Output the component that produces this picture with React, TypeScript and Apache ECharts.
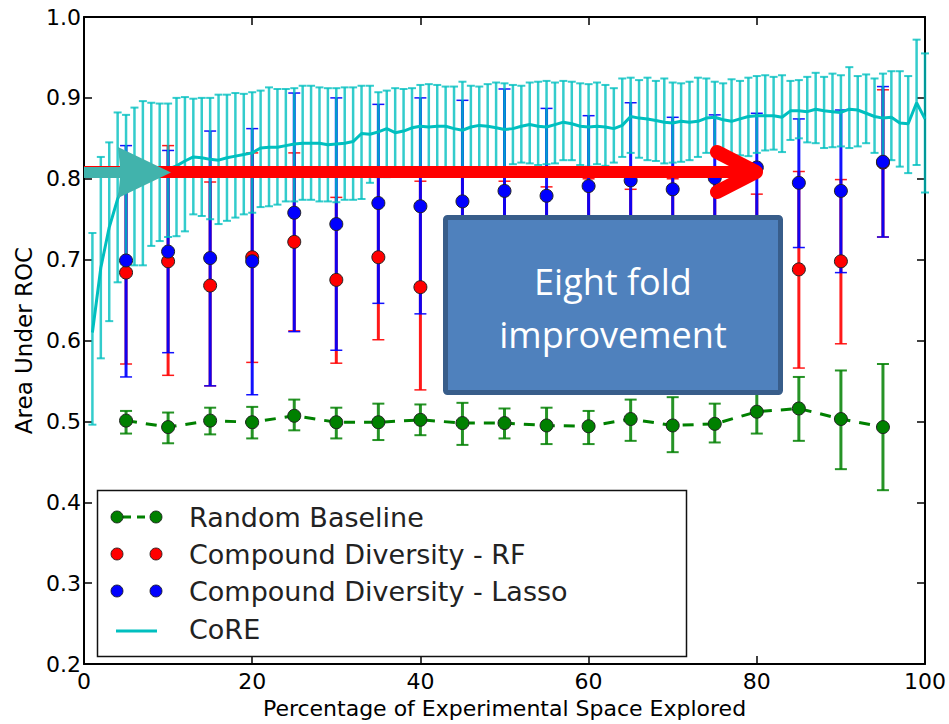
import React, { useEffect, useRef } from "react";
import * as echarts from "echarts";

const FONT = "DejaVu Sans";

// x positions of the sampled strategies (percent explored)
const pctX = [5, 10, 15, 20, 25, 30, 35, 40, 45, 50, 55, 60, 65, 70, 75, 80, 85, 90, 95];
const xTicks = [0, 20, 40, 60, 80, 100];

// Random Baseline
const randomMean = [0.501, 0.493, 0.501, 0.499, 0.507, 0.499, 0.499, 0.502, 0.498, 0.498, 0.495, 0.494, 0.503, 0.495, 0.497, 0.512, 0.516, 0.503, 0.493];
const randomHigh = [0.513, 0.511, 0.517, 0.518, 0.527, 0.517, 0.522, 0.521, 0.523, 0.516, 0.517, 0.513, 0.527, 0.530, 0.522, 0.537, 0.555, 0.563, 0.571];
const randomLow = [0.485, 0.473, 0.484, 0.479, 0.489, 0.479, 0.477, 0.483, 0.471, 0.479, 0.472, 0.472, 0.476, 0.462, 0.474, 0.485, 0.476, 0.441, 0.415];

// Compound Diversity - RF
const rfMean = [0.684, 0.698, 0.668, 0.703, 0.722, 0.675, 0.703, 0.666, 0.700, 0.710, 0.700, 0.680, 0.700, 0.690, 0.710, 0.690, 0.688, 0.698, 0.820];
const rfHigh = [0.798, 0.841, 0.796, 0.832, 0.832, 0.777, 0.808, 0.797, 0.810, 0.797, 0.790, 0.800, 0.787, 0.800, 0.810, 0.781, 0.809, 0.799, 0.910];
const rfLow = [0.571, 0.557, 0.544, 0.573, 0.612, 0.572, 0.601, 0.539, 0.580, 0.600, 0.590, 0.535, 0.590, 0.580, 0.600, 0.580, 0.566, 0.596, 0.728];

// Compound Diversity - Lasso
const lassoMean = [0.699, 0.710, 0.702, 0.698, 0.758, 0.744, 0.770, 0.766, 0.772, 0.785, 0.779, 0.791, 0.798, 0.787, 0.801, 0.814, 0.795, 0.785, 0.821];
const lassoHigh = [0.841, 0.835, 0.859, 0.862, 0.906, 0.900, 0.892, 0.900, 0.897, 0.911, 0.887, 0.878, 0.894, 0.876, 0.879, 0.881, 0.874, 0.885, 0.914];
const lassoLow = [0.555, 0.585, 0.544, 0.533, 0.611, 0.588, 0.646, 0.633, 0.650, 0.660, 0.660, 0.680, 0.690, 0.670, 0.690, 0.700, 0.715, 0.684, 0.728];

// CoRE, sampled at 1..100 percent
const coreMean = [
  0.61, 0.69, 0.74, 0.775, 0.80, 0.808, 0.81, 0.81, 0.81, 0.812,
  0.816, 0.822, 0.827, 0.826, 0.824, 0.823, 0.826, 0.828, 0.830, 0.832,
  0.838, 0.839, 0.839, 0.841, 0.843, 0.844, 0.844, 0.844, 0.842, 0.843,
  0.844, 0.846, 0.856, 0.855, 0.858, 0.862, 0.857, 0.859, 0.863, 0.865,
  0.864, 0.865, 0.865, 0.862, 0.860, 0.864, 0.866, 0.865, 0.863, 0.861,
  0.862, 0.865, 0.867, 0.865, 0.864, 0.867, 0.870, 0.868, 0.865, 0.864,
  0.865, 0.864, 0.862, 0.866, 0.877, 0.875, 0.874, 0.872, 0.870, 0.869,
  0.871, 0.870, 0.871, 0.875, 0.876, 0.873, 0.871, 0.874, 0.877, 0.878,
  0.878, 0.878, 0.876, 0.884, 0.884, 0.883, 0.886, 0.884, 0.883, 0.882,
  0.886, 0.885, 0.881, 0.877, 0.875, 0.876, 0.869, 0.868, 0.894, 0.874,
];
const coreHigh = [
  0.733, 0.827, 0.845, 0.882, 0.879, 0.888, 0.896, 0.894, 0.893, 0.893,
  0.900, 0.901, 0.899, 0.900, 0.900, 0.904, 0.904, 0.906, 0.905, 0.907,
  0.909, 0.913, 0.911, 0.911, 0.912, 0.915, 0.915, 0.913, 0.912, 0.912,
  0.913, 0.913, 0.915, 0.915, 0.907, 0.909, 0.912, 0.911, 0.912, 0.916,
  0.917, 0.916, 0.914, 0.914, 0.920, 0.915, 0.914, 0.917, 0.919, 0.918,
  0.916, 0.915, 0.919, 0.920, 0.921, 0.919, 0.921, 0.920, 0.918, 0.917,
  0.919, 0.916, 0.912, 0.924, 0.925, 0.922, 0.925, 0.921, 0.924, 0.919,
  0.918, 0.920, 0.925, 0.924, 0.920, 0.918, 0.923, 0.921, 0.925, 0.927,
  0.928, 0.926, 0.928, 0.921, 0.922, 0.926, 0.931, 0.926, 0.930, 0.928,
  0.938, 0.927, 0.929, 0.924, 0.930, 0.933, 0.933, 0.927, 0.972, 0.955,
];
const coreLow = [
  0.496, 0.578, 0.624, 0.672, 0.682, 0.693, 0.693, 0.717, 0.723, 0.728,
  0.729, 0.735, 0.756, 0.754, 0.750, 0.744, 0.748, 0.752, 0.756, 0.758,
  0.765, 0.766, 0.768, 0.772, 0.772, 0.774, 0.774, 0.772, 0.772, 0.771,
  0.774, 0.774, 0.775, 0.795, 0.802, 0.802, 0.804, 0.803, 0.806, 0.808,
  0.810, 0.812, 0.808, 0.806, 0.809, 0.812, 0.814, 0.811, 0.809, 0.813,
  0.818, 0.820, 0.819, 0.817, 0.818, 0.819, 0.823, 0.823, 0.817, 0.815,
  0.818, 0.816, 0.820, 0.827, 0.832, 0.826, 0.823, 0.822, 0.819, 0.820,
  0.821, 0.823, 0.827, 0.832, 0.830, 0.826, 0.827, 0.829, 0.828, 0.832,
  0.835, 0.836, 0.833, 0.848, 0.850, 0.845, 0.844, 0.838, 0.839, 0.840,
  0.838, 0.840, 0.844, 0.832, 0.827, 0.823, 0.815, 0.807, 0.817, 0.783,
];

const legendLabels = ["Random Baseline", "Compound Diversity - RF", "Compound Diversity - Lasso", "CoRE"];

const GREEN = "#008000";
const RED = "#FF0000";
const BLUE = "#0000FF";
const CYAN = "#00BFBF";

function errBars(color: string, capHalf: number, lw: number, capLw: number, opacity: number) {
  return (params: any, api: any) => {
    const x = api.value(0);
    const lo = api.coord([x, api.value(1)]);
    const hi = api.coord([x, api.value(2)]);
    const st = { stroke: color, lineWidth: lw, opacity };
    const cst = { stroke: color, lineWidth: capLw, opacity };
    return {
      type: "group",
      children: [
        { type: "line", shape: { x1: lo[0], y1: lo[1], x2: hi[0], y2: hi[1] }, style: st },
        { type: "line", shape: { x1: lo[0] - capHalf, y1: lo[1], x2: lo[0] + capHalf, y2: lo[1] }, style: cst },
        { type: "line", shape: { x1: hi[0] - capHalf, y1: hi[1], x2: hi[0] + capHalf, y2: hi[1] }, style: cst },
      ],
    };
  };
}

export default function App() {
  const ref = useRef<HTMLDivElement>(null);

  useEffect(() => {
    if (!ref.current) return;
    const chart = echarts.init(ref.current, null, { renderer: "svg" });

    const coreX = coreMean.map((_, i) => i + 1);
    const coreBars = coreX.map((x, i) => [x, coreLow[i], coreHigh[i]]);
    const coreLine = coreX.map((x, i) => [x, coreMean[i]]);
    const rfBars = pctX.map((x, i) => [x, rfLow[i], rfHigh[i]]);
    const lassoBars = pctX.map((x, i) => [x, lassoLow[i], lassoHigh[i]]);
    const randBars = pctX.map((x, i) => [x, randomLow[i], randomHigh[i]]);

    const axisLine = { show: true, onZero: false, lineStyle: { color: "#000", width: 2 } };
    const axisTick = { show: true, inside: true, length: 8, lineStyle: { color: "#000", width: 1.5 } };
    const labelStyle = { fontFamily: FONT, fontSize: 22, color: "#000" };

    const legendRows = [517, 554, 591, 629];
    const legendColors = [GREEN, RED, BLUE];
    const legendGraphics: any[] = [
      {
        type: "rect",
        shape: { x: 97.5, y: 490.5, width: 589, height: 166 },
        style: { fill: "#fff", stroke: "#111", lineWidth: 1.5 },
        z: 100,
      },
    ];
    legendColors.forEach((c, i) => {
      const y = legendRows[i];
      if (i === 0) {
        legendGraphics.push({
          type: "line",
          shape: { x1: 123, y1: y, x2: 150, y2: y },
          style: { stroke: c, lineWidth: 3, lineDash: [8, 6] },
          z: 101,
        });
      }
      [117, 156].forEach((cx) =>
        legendGraphics.push({
          type: "circle",
          shape: { cx, cy: y, r: 6 },
          style: { fill: c, stroke: "#111", lineWidth: 0.8 },
          z: 102,
        })
      );
    });
    legendGraphics.push({
      type: "line",
      shape: { x1: 116, y1: legendRows[3] + 2, x2: 157, y2: legendRows[3] + 2 },
      style: { stroke: CYAN, lineWidth: 3 },
      z: 101,
    });
    legendLabels.forEach((t, i) =>
      legendGraphics.push({
        type: "text",
        x: 189,
        y: legendRows[i],
        style: { text: t, fontFamily: FONT, fontSize: 27, fill: "#222", textVerticalAlign: "middle", textAlign: "left" },
        z: 103,
      })
    );

    const annotation: any[] = [
      // red arrow shaft
      { type: "rect", shape: { x: 84, y: 166, width: 670, height: 12 }, style: { fill: RED }, z: 90 },
      // red arrow head
      {
        type: "polyline",
        shape: { points: [[717, 152], [756, 172], [717, 192]] },
        style: { stroke: RED, lineWidth: 14, lineCap: "round", lineJoin: "round", fill: null },
        z: 90,
      },
      // teal arrow
      {
        type: "polygon",
        shape: { points: [[84, 167], [120, 167], [118, 147], [171, 172.5], [118, 198], [120, 178], [84, 178]] },
        style: { fill: "#41B3AC" },
        z: 91,
      },
      // text box
      {
        type: "rect",
        shape: { x: 445.5, y: 217.5, width: 335, height: 175, r: 2 },
        style: { fill: "#4F81BD", stroke: "#385D8A", lineWidth: 5 },
        z: 92,
      },
      {
        type: "text",
        x: 613,
        y: 281,
        style: { text: "Eight fold", fontFamily: "Open Sans", fontSize: 36, fill: "#fff", textAlign: "center", textVerticalAlign: "middle" },
        z: 93,
      },
      {
        type: "text",
        x: 613,
        y: 334,
        style: { text: "improvement", fontFamily: "Open Sans", fontSize: 36, fill: "#fff", textAlign: "center", textVerticalAlign: "middle" },
        z: 93,
      },
    ];

    chart.setOption({
      animation: false,
      backgroundColor: "#fff",
      grid: { left: 84, right: 21, top: 17, bottom: 53 },
      xAxis: [
        {
          type: "value",
          min: xTicks[0],
          max: xTicks[xTicks.length - 1],
          interval: 20,
          position: "bottom",
          axisLine,
          axisTick,
          splitLine: { show: false },
          axisLabel: { ...labelStyle, margin: 6, showMinLabel: true, showMaxLabel: true },
          name: "Percentage of Experimental Space Explored",
          nameLocation: "middle",
          nameGap: 30,
          nameTextStyle: { fontFamily: FONT, fontSize: 22, color: "#000" },
        },
        {
          type: "value",
          min: 0,
          max: 100,
          interval: 20,
          position: "top",
          axisLine,
          axisTick,
          splitLine: { show: false },
          axisLabel: { show: false },
        },
      ],
      yAxis: [
        {
          type: "value",
          min: 0.2,
          max: 1.0,
          interval: 0.1,
          position: "left",
          axisLine,
          axisTick,
          splitLine: { show: false },
          axisLabel: { ...labelStyle, margin: 3, showMinLabel: true, showMaxLabel: true, formatter: (v: number) => v.toFixed(1) },
          name: "Area Under ROC",
          nameLocation: "middle",
          nameGap: 44,
          nameTextStyle: { fontFamily: FONT, fontSize: 23, color: "#000" },
        },
        {
          type: "value",
          min: 0.2,
          max: 1.0,
          interval: 0.1,
          position: "right",
          axisLine,
          axisTick,
          splitLine: { show: false },
          axisLabel: { show: false },
        },
      ],
      series: [
        {
          name: "RF bars",
          type: "custom",
          renderItem: errBars(RED, 6, 3, 1.5, 0.9),
          encode: { x: 0, y: [1, 2] },
          data: rfBars,
          z: 1,
        },
        {
          name: "Lasso bars",
          type: "custom",
          renderItem: errBars(BLUE, 6, 3, 1.5, 0.93),
          encode: { x: 0, y: [1, 2] },
          data: lassoBars,
          z: 2,
        },
        {
          name: "CoRE bars",
          type: "custom",
          renderItem: errBars(CYAN, 4, 2.5, 2, 0.8),
          encode: { x: 0, y: [1, 2] },
          data: coreBars,
          z: 3,
        },
        {
          name: legendLabels[3],
          type: "line",
          data: coreLine,
          showSymbol: false,
          lineStyle: { color: CYAN, width: 3 },
          itemStyle: { color: CYAN },
          z: 4,
        },
        {
          name: "Random bars",
          type: "custom",
          renderItem: errBars(GREEN, 6, 3, 2, 0.85),
          encode: { x: 0, y: [1, 2] },
          data: randBars,
          z: 5,
        },
        {
          name: legendLabels[0],
          type: "line",
          data: pctX.map((x, i) => [x, randomMean[i]]),
          symbol: "circle",
          symbolSize: 13,
          lineStyle: { color: GREEN, width: 3, type: [11, 9] },
          itemStyle: { color: GREEN, borderColor: "#222", borderWidth: 1 },
          z: 6,
        },
        {
          name: legendLabels[1],
          type: "scatter",
          data: pctX.map((x, i) => [x, rfMean[i]]),
          symbol: "circle",
          symbolSize: 13,
          itemStyle: { color: RED, borderColor: "#222", borderWidth: 1, opacity: 1 },
          z: 7,
        },
        {
          name: legendLabels[2],
          type: "scatter",
          data: pctX.map((x, i) => [x, lassoMean[i]]),
          symbol: "circle",
          symbolSize: 13,
          itemStyle: { color: BLUE, borderColor: "#222", borderWidth: 1, opacity: 1 },
          z: 8,
        },
      ],
      graphic: [...annotation, ...legendGraphics],
    });

    return () => chart.dispose();
  }, []);

  return (
    <div
      ref={ref}
      style={{ position: "absolute", left: 0, top: 0, width: 949, height: 724, background: "#fff" }}
    />
  );
}
